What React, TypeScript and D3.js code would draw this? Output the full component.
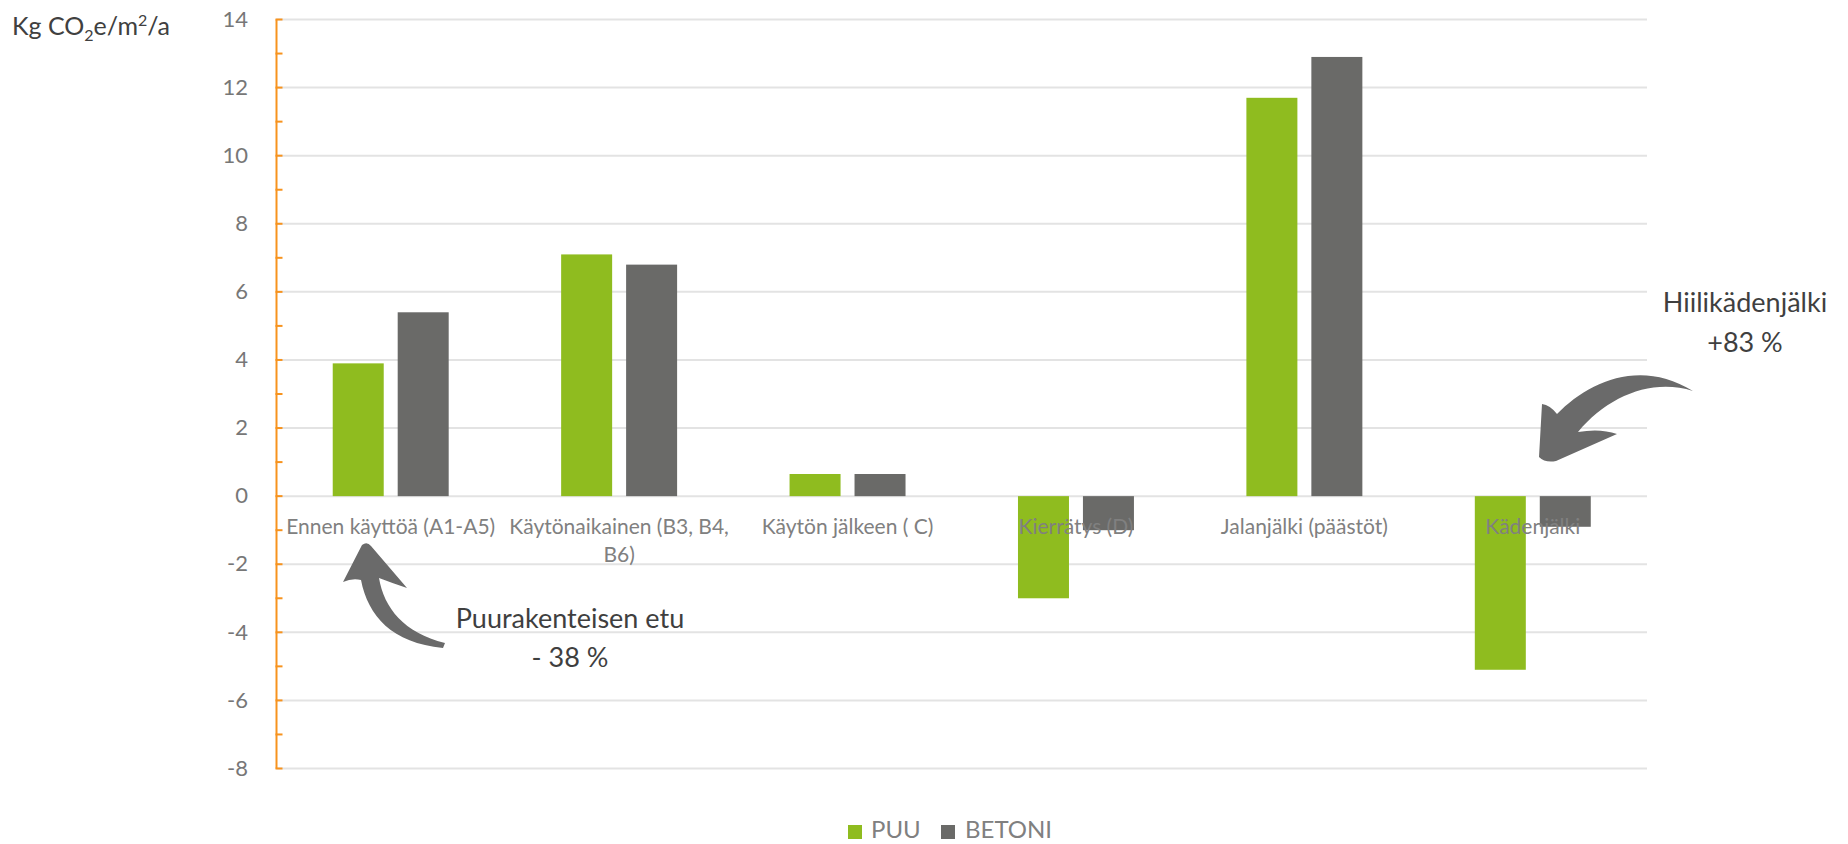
import React from "react";
import * as d3 from "d3";

// Embodied carbon per life-cycle stage, wood vs. concrete frame
const categories = [
  "Ennen käyttöä (A1-A5)",
  "Käytönaikainen (B3, B4, B6)",
  "Käytön jälkeen ( C)",
  "Kierrätys (D)",
  "Jalanjälki (päästöt)",
  "Kädenjälki",
];
const seriesNames = ["PUU", "BETONI"];
const puuValues = [3.9, 7.1, 0.65, -3.0, 11.7, -5.1];
const betoniValues = [5.4, 6.8, 0.65, -1.0, 12.9, -0.9];
const yTickValues = [-8, -6, -4, -2, 0, 2, 4, 6, 8, 10, 12, 14];
const yMinorTicks = d3.range(-8, 15, 1);

const W = 1848;
const H = 844;
const M = { left: 276.5, right: 1647, top: 19.5, bottom: 768.5 };

const COLORS: Record<string, string> = { PUU: "#8fbc1f", BETONI: "#6a6a68" };
const AXIS_ORANGE = "#f7931e";
const GRID = "#e3e3e3";
const FONT = "Lato, 'Open Sans', sans-serif";

const LABEL_FONT_SIZE = 21;

function wrapText(text: string, maxWidth: number, font: string): string[] {
  const ctx = document.createElement("canvas").getContext("2d");
  if (!ctx) return [text];
  ctx.font = font;
  const words = text.split(" ");
  const lines: string[] = [];
  let line = "";
  for (const w of words) {
    const test = line ? line + " " + w : w;
    if (ctx.measureText(test).width > maxWidth && line) {
      lines.push(line);
      line = w;
    } else {
      line = test;
    }
  }
  if (line) lines.push(line);
  return lines;
}

// Curved callout arrows
const arrowLeft =
  "M 362 545 Q 367 541 371 546 L 407 588 Q 392 583 379 578 " +
  "C 384 608 404 633 445 643 L 443 648 C 392 643 368 616 361 580 " +
  "Q 352 578 343 582 Z";
const arrowRight =
  "M 1539 457 L 1542 404 Q 1550 405 1557 414 " +
  "C 1588 382 1640 358 1693 391 C 1652 378 1608 396 1578 432 " +
  "Q 1600 428 1617 434 L 1556 461 Q 1545 463 1539 457 Z";

export default function App() {
  const x0 = d3
    .scaleBand<string>()
    .domain(categories)
    .range([M.left, M.right])
    .paddingInner(0.4923)
    .paddingOuter(0.24615);
  const x1 = d3
    .scaleBand<string>()
    .domain(seriesNames)
    .range([0, x0.bandwidth()])
    .paddingInner(0.215);
  const y = d3.scaleLinear().domain([-8, 14]).range([M.bottom, M.top]);

  const series = [
    { name: "PUU", values: puuValues },
    { name: "BETONI", values: betoniValues },
  ];

  const labelFont = `${LABEL_FONT_SIZE}px Lato, 'Open Sans', sans-serif`;
  const labelLines = categories.map((c) => wrapText(c, x0.step(), labelFont));

  const legendItems = [
    { name: "PUU", sx: 848, tx: 871 },
    { name: "BETONI", sx: 941, tx: 965 },
  ];

  return (
    <svg
      width={W}
      height={H}
      style={{ position: "absolute", left: 0, top: 0, background: "#fff" }}
      fontFamily={FONT}
    >
      {/* horizontal gridlines */}
      {yTickValues.map((v) => (
        <line
          key={"g" + v}
          x1={M.left}
          x2={M.right}
          y1={y(v)}
          y2={y(v)}
          stroke={GRID}
          strokeWidth={2}
        />
      ))}

      {/* bars */}
      {series.map((s) =>
        s.values.map((v, i) => {
          const xp = (x0(categories[i]) ?? 0) + (x1(s.name) ?? 0);
          const top = y(Math.max(0, v));
          const h = Math.abs(y(v) - y(0));
          return (
            <rect
              key={s.name + i}
              x={xp}
              y={top}
              width={x1.bandwidth()}
              height={h}
              fill={COLORS[s.name]}
            />
          );
        })
      )}

      {/* y axis */}
      <line
        x1={M.left}
        x2={M.left}
        y1={y(14)}
        y2={y(-8)}
        stroke={AXIS_ORANGE}
        strokeWidth={2}
      />
      {yMinorTicks.map((v) => (
        <line
          key={"t" + v}
          x1={M.left - 1}
          x2={M.left + 6}
          y1={y(v)}
          y2={y(v)}
          stroke={AXIS_ORANGE}
          strokeWidth={2}
        />
      ))}
      {yTickValues.map((v) => (
        <text
          key={"l" + v}
          x={248}
          y={y(v)}
          dy="0.33em"
          textAnchor="end"
          fontSize={22}
          fill="#777777"
        >
          {v}
        </text>
      ))}

      {/* axis unit */}
      <text x={12} y={35} fontSize={25} fill="#404040">
        Kg CO
        <tspan fontSize={16} dy={6}>2</tspan>
        <tspan dy={-6}>e/m</tspan>
        <tspan fontSize={16} dy={-9}>2</tspan>
        <tspan dy={9}>/a</tspan>
      </text>

      {/* category labels */}
      {categories.map((c, i) => {
        const cx = (x0(c) ?? 0) + x0.bandwidth() / 2;
        return (
          <text
            key={"c" + i}
            x={cx}
            y={534}
            textAnchor="middle"
            fontSize={LABEL_FONT_SIZE}
            fill="#808080"
          >
            {labelLines[i].map((ln, j) => (
              <tspan key={j} x={cx} dy={j === 0 ? 0 : 28}>
                {ln}
              </tspan>
            ))}
          </text>
        );
      })}

      {/* callouts */}
      <path d={arrowLeft} fill="#6a6a6a" />
      <path d={arrowRight} fill="#6a6a6a" />
      <text x={570} y={628} textAnchor="middle" fontSize={27} fill="#3f3f3f">
        Puurakenteisen etu
      </text>
      <text x={570} y={667} textAnchor="middle" fontSize={27} fill="#3f3f3f">
        - 38 %
      </text>
      <text x={1745} y={312} textAnchor="middle" fontSize={27} fill="#3f3f3f">
        Hiilikädenjälki
      </text>
      <text x={1745} y={352} textAnchor="middle" fontSize={27} fill="#3f3f3f">
        +83 %
      </text>

      {/* legend */}
      {legendItems.map((it) => (
        <g key={it.name}>
          <rect x={it.sx} y={825} width={14} height={14} fill={COLORS[it.name]} />
          <text x={it.tx} y={838} fontSize={24} fill="#808080">
            {it.name}
          </text>
        </g>
      ))}
    </svg>
  );
}
